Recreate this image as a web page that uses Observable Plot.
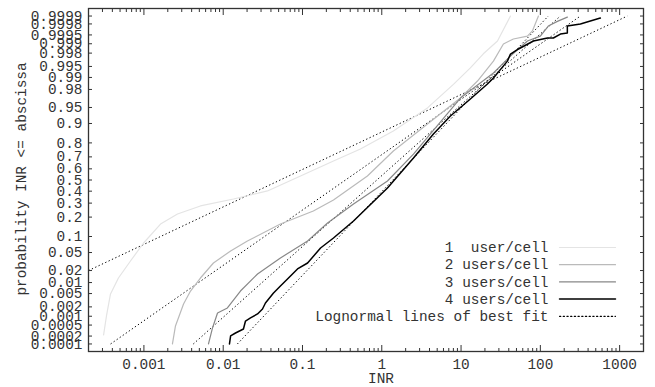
<!DOCTYPE html>
<html><head><meta charset="utf-8">
<script src="https://cdn.jsdelivr.net/npm/d3@7"></script>
<script src="https://cdn.jsdelivr.net/npm/@observablehq/plot@0.6"></script>
<style>
body{margin:0;background:#fff;}
svg text{white-space:pre;}
</style></head><body><div id="chart"></div>
<script>
// ---- data ----
const probTicks = [0.0001,0.0002,0.0005,0.001,0.002,0.005,0.01,0.02,0.05,0.1,0.2,0.3,0.4,0.5,0.6,0.7,0.8,0.9,0.95,0.98,0.99,0.995,0.998,0.999,0.9995,0.9998,0.9999];
const probTickLabels = ["0.0001","0.0002","0.0005","0.001","0.002","0.005","0.01","0.02","0.05","0.1","0.2","0.3","0.4","0.5","0.6","0.7","0.8","0.9","0.95","0.98","0.99","0.995","0.998","0.999","0.9995","0.9998","0.9999"];
const inrTicks = [0.001,0.01,0.1,1,10,100,1000];
const inrTickLabels = ["0.001","0.01","0.1","1","10","100","1000"];

const seriesNames = ["1  user/cell","2 users/cell","3 users/cell","4 users/cell"];
const fitName = "Lognormal lines of best fit";

const inr1 = [0.00031,0.000337,0.000379,0.000477,0.000677,0.00099,0.00162,0.00265,0.00516,0.0135,0.0362,0.0944,0.246,0.538,1.40,3.77,8.01,13.1,19.1,28.8,42.0];
const prob1 = [0.00022,0.00102,0.00487,0.0131,0.0331,0.0765,0.159,0.220,0.278,0.333,0.402,0.536,0.667,0.759,0.867,0.949,0.985,0.9945,0.9979,0.99919,0.9999];

const inr2 = [0.00229,0.0025,0.00316,0.00387,0.00516,0.00753,0.0124,0.0202,0.0527,0.137,0.246,0.659,1.40,3.77,9.82,16.1,25.6,34.2,45.7,68.7,79.4,94.6];
const prob2 = [0.0001,0.000465,0.00246,0.0059,0.0131,0.0299,0.0537,0.0833,0.159,0.241,0.325,0.536,0.745,0.898,0.9685,0.9876,0.9965,0.99898,0.99931,0.99945,0.99964,0.9999];

const inr3 = [0.00652,0.00733,0.00848,0.0113,0.0165,0.0271,0.0527,0.116,0.207,0.440,1.18,2.51,4.11,9.82,25.6,42.0,68.7,100,126,164,219];
const prob3 = [0.0001,0.000395,0.00128,0.00185,0.0059,0.0165,0.0385,0.0833,0.165,0.293,0.491,0.722,0.852,0.9685,0.9924,0.99754,0.99919,0.99945,0.99976,0.99984,0.99989];

const inr4 = [0.0120,0.0124,0.0143,0.0180,0.0191,0.0221,0.0271,0.0313,0.0341,0.0431,0.0527,0.0706,0.0865,0.116,0.169,0.246,0.440,1.18,2.51,4.48,7.34,13.1,21.5,25.6,38.4,42.0,53.0,81.8,123,146,179,219,219,320,571];
const prob4 = [0.0001,0.000202,0.00026,0.000364,0.00069,0.00088,0.00119,0.00172,0.00264,0.0052,0.0081,0.0147,0.0218,0.0299,0.0615,0.0942,0.176,0.428,0.691,0.852,0.9266,0.9669,0.9853,0.9896,0.9965,0.99786,0.99852,0.99919,0.99936,0.99936,0.999535,0.99957,0.99976,0.9998,0.99988];

// lognormal best-fit lines (straight on these axes): end points
const fitLowINR = [0.0002,0.00038,0.0042,0.0151];
const fitLowProb = [0.02,0.0001,0.0001,0.0001];
const fitHighINR = [1250,320,179,126];
const fitHighProb = [0.9999,0.9999,0.9999,0.9999];

// ---- styles ----
const seriesColors = ["#e4e4e4","#bababa","#888888","#000000"];
const seriesWidths = [1.2,1.2,1.2,1.5];

// inverse normal CDF (probit) for the normal-probability axis
function probit(p){
  const a=[-3.969683028665376e+01,2.209460984245205e+02,-2.759285104469687e+02,1.383577518672690e+02,-3.066479806614716e+01,2.506628277459239e+00];
  const b=[-5.447609879822406e+01,1.615858368580409e+02,-1.556989798598866e+02,6.680131188771972e+01,-1.328068155288572e+01];
  const c=[-7.784894002430293e-03,-3.223964580411365e-01,-2.400758277161838e+00,-2.549671348254144e+00,4.374664141464968e+00,2.938163982698783e+00];
  const d=[7.784695709041462e-03,3.224671290700398e-01,2.445134137142996e+00,3.754408661907416e+00];
  const pl=0.02425;
  if(p<pl){const q=Math.sqrt(-2*Math.log(p));return (((((c[0]*q+c[1])*q+c[2])*q+c[3])*q+c[4])*q+c[5])/((((d[0]*q+d[1])*q+d[2])*q+d[3])*q+1);}
  if(p>1-pl){const q=Math.sqrt(-2*Math.log(1-p));return -(((((c[0]*q+c[1])*q+c[2])*q+c[3])*q+c[4])*q+c[5])/((((d[0]*q+d[1])*q+d[2])*q+d[3])*q+1);}
  const q=p-0.5,r=q*q;return (((((a[0]*r+a[1])*r+a[2])*r+a[3])*r+a[4])*r+a[5])*q/(((((b[0]*r+b[1])*r+b[2])*r+b[3])*r+b[4])*r+1);
}

const inrs=[inr1,inr2,inr3,inr4], probs=[prob1,prob2,prob3,prob4];
const rows = [];
seriesNames.forEach((s,k)=>inrs[k].forEach((v,i)=>rows.push({series:s, k, inr:v, z:probit(probs[k][i])})));
const fits = fitLowINR.map((v,i)=>({x1:v, y1:probit(fitLowProb[i]), x2:fitHighINR[i], y2:probit(fitHighProb[i])}));

const zTicks = probTicks.map(probit);
const zLabel = z => { const i = zTicks.findIndex(t=>Math.abs(t-z)<1e-9); return i<0 ? "" : probTickLabels[i]; };
const xLabel = x => { const i = inrTicks.findIndex(t=>Math.abs(t-x)/t<1e-9); return i<0 ? "" : inrTickLabels[i]; };
const minor = [];
for (let e=-4;e<=3;e++) for (let m=2;m<=9;m++){ const v=m*Math.pow(10,e); if(v>=0.0002 && v<=2000) minor.push(v); }

const legendLabels = [...seriesNames, fitName];
const legendColors = [...seriesColors, "#000"];
const rowDy = i => -104 + i*17.2;
const lineShape = {draw(ctx,l){ctx.moveTo(0,0); ctx.lineTo(0,-l);}};

const marks = [
  Plot.link(fits, {x1:"x1", y1:"y1", x2:"x2", y2:"y2", stroke:"#000", strokeWidth:1, strokeDasharray:"1.3,2.4", clip:true}),
  ...seriesNames.map((s,k)=>Plot.line(rows.filter(r=>r.k===k), {x:"inr", y:"z", stroke:seriesColors[k], strokeWidth:seriesWidths[k], clip:true})),
  Plot.frame({stroke:"#333", strokeWidth:1.3}),
  Plot.axisY(zTicks, {anchor:"left", tickSize:-4, tickPadding:10, tickFormat:zLabel, label:null, stroke:"#333", fill:"#333"}),
  Plot.axisY(zTicks, {anchor:"right", tickSize:-4, tickFormat:()=>"", label:null, stroke:"#333"}),
  Plot.axisX(inrTicks, {anchor:"bottom", tickSize:-6, tickPadding:13, tickFormat:xLabel, label:null, stroke:"#333", fill:"#333"}),
  Plot.axisX(minor, {anchor:"bottom", tickSize:-3, tickFormat:()=>"", label:null, stroke:"#333"}),
  Plot.axisX(inrTicks, {anchor:"top", tickSize:-6, tickFormat:()=>"", label:null, stroke:"#333"}),
  Plot.axisX(minor, {anchor:"top", tickSize:-3, tickFormat:()=>"", label:null, stroke:"#333"}),
  Plot.text(["INR"], {frameAnchor:"bottom", dx:15, dy:27, text:d=>d, fill:"#333", textAnchor:"middle", lineAnchor:"middle"}),
  Plot.text(["probability INR <= abscissa"], {frameAnchor:"left", dx:-67, dy:-1, rotate:-90, text:d=>d, fill:"#333", textAnchor:"middle", lineAnchor:"middle"}),
  ...legendLabels.map((t,i)=>Plot.text([t], {frameAnchor:"bottom-right", dx:-95, dy:rowDy(i), text:d=>d, textAnchor:"end", lineAnchor:"middle", fill:"#333"})),
  ...legendLabels.map((t,i)=>Plot.vector([t], {frameAnchor:"bottom-right", dx:-84, dy:rowDy(i), rotate:90, length:56, anchor:"start", shape:lineShape, stroke:legendColors[i], strokeWidth: i===3?1.5:1.2, strokeDasharray: i===4?"1.3,2.4":null}))
];

const chart = Plot.plot({
  width:655, height:387,
  marginLeft:88, marginRight:12, marginTop:8, marginBottom:36,
  style:{fontFamily:"'Liberation Mono', 'Courier New', monospace", fontSize:"14.4px", color:"#222", background:"#fff"},
  x:{type:"log", domain:[0.0002,2000], label:null},
  y:{type:"linear", domain:[-3.89,3.89], label:null},
  marks
});
document.getElementById("chart").appendChild(chart);
</script>
</body></html>
